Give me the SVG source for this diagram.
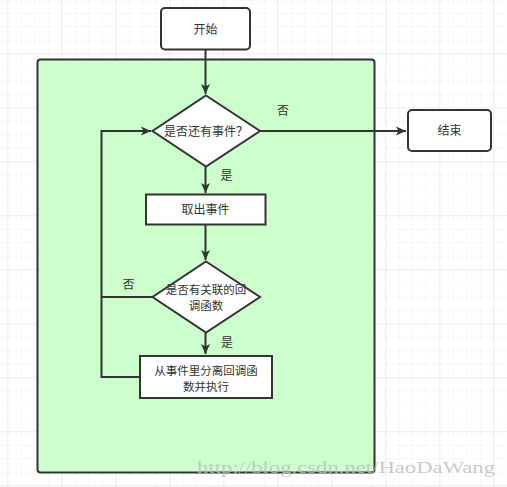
<svg xmlns="http://www.w3.org/2000/svg" width="507" height="487" viewBox="0 0 507 487">
<defs>
<pattern id="minor" x="7.3" y="-0.7" width="13.5" height="13.5" patternUnits="userSpaceOnUse">
<path d="M0 0H13.5M0 0V13.5" fill="none" stroke="#f0f0f0" stroke-width="1"/>
</pattern>
<pattern id="major" x="7.3" y="-0.7" width="54" height="54" patternUnits="userSpaceOnUse">
<path d="M0 0H54M0 0V54" fill="none" stroke="#e4e4e4" stroke-width="1"/>
</pattern>
<marker id="arr" viewBox="0 0 10 10" refX="10" refY="5" markerWidth="10" markerHeight="10" markerUnits="userSpaceOnUse" orient="auto">
<path d="M0 0.5L10 5L0 9.5L2.5 5Z" fill="#333"/>
</marker>
</defs>
<style>
.sh{fill:#fff;stroke:#333;stroke-width:2}
.ln{fill:none;stroke:#333;stroke-width:2}
.t{font-family:"Noto Sans CJK SC","Noto Sans",sans-serif;font-size:12px;fill:#333;text-anchor:middle}
.t2{font-size:11.5px}
</style>
<rect width="507" height="487" fill="#fff"/>
<rect width="507" height="487" fill="url(#minor)"/>
<rect width="507" height="487" fill="url(#major)"/>
<g id="container"><rect x="37.5" y="59.5" width="337" height="413" rx="3" fill="#ccffcc" stroke="#333" stroke-width="2"/></g>
<g id="connectors">
<path class="ln" d="M205.5 50V94" marker-end="url(#arr)"/>
<path class="ln" d="M260 131H406" marker-end="url(#arr)"/>
<path class="ln" d="M205.5 167V193" marker-end="url(#arr)"/>
<path class="ln" d="M205.5 225V260" marker-end="url(#arr)"/>
<path class="ln" d="M205.5 333V354" marker-end="url(#arr)"/>
<path class="ln" d="M152 297H101.5"/>
<path class="ln" d="M140 377H101.5V131H151" marker-end="url(#arr)"/>
</g>
<g id="start"><rect class="sh" x="161" y="8" width="89" height="41.5" rx="4"/><text class="t" x="205.5" y="33.5">开始</text></g>
<g id="d1"><path class="sh" d="M206 95.5L260 131L206 166.5L152.5 131Z"/><text class="t" x="206" y="135.5">是否还有事件？</text></g>
<g id="end"><rect class="sh" x="408" y="110" width="83" height="41" rx="4"/><text class="t" x="449.5" y="135">结束</text></g>
<g id="take"><rect class="sh" x="146" y="194.5" width="119.5" height="30"/><text class="t" x="205.5" y="213.5">取出事件</text></g>
<g id="d2"><path class="sh" d="M206 261.5L260 297L206 332.5L152.5 297Z"/><text class="t t2" x="206" y="294">是否有关联的回<tspan x="206" dy="16">调函数</tspan></text></g>
<g id="exec"><rect class="sh" x="140" y="356" width="132" height="42"/><text class="t t2" x="206" y="374.5">从事件里分离回调函<tspan x="206" dy="16">数并执行</tspan></text></g>
<g id="labels">
<text class="t" x="283" y="115">否</text>
<text class="t" x="226.5" y="180">是</text>
<text class="t" x="128.5" y="289">否</text>
<text class="t" x="227" y="347">是</text>
</g>
<text x="197" y="473" font-family="'Liberation Serif',serif" font-size="17" fill="#c0c0c0" fill-opacity="0.85" textLength="298" lengthAdjust="spacingAndGlyphs">http://blog.csdn.net/HaoDaWang</text>
</svg>
